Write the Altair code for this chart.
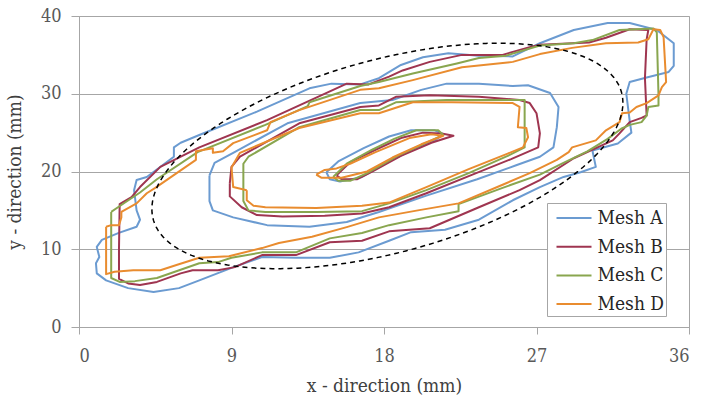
import math
import altair as alt
import pandas as pd

# Series names and line colours
MESHES = ["Mesh A", "Mesh B", "Mesh C", "Mesh D"]
COLORS = ["#6b9bd1", "#9f3550", "#89a64f", "#e98c2f"]

X_TICKS = [0, 9, 18, 27, 36]
Y_TICKS = [0, 5, 10, 15, 20, 25, 30, 35, 40]

# Contour traces (x mm, y mm), each a closed loop
A_OUTER = [(4.4, 4.5), (2.9, 5.0), (1.6, 6.0), (1.05, 6.9), (1.0, 8.2), (1.2, 9.0), (1.05, 10.3),
           (1.35, 11.2), (2.35, 12.1), (3.4, 12.9), (3.6, 13.8), (3.4, 15.0), (3.25, 17.6), (3.4, 18.9),
           (4.0, 19.3), (5.6, 21.9), (5.6, 23.1), (6.0, 23.7), (7.1, 24.7), (10.5, 27.7), (13.6, 30.7),
           (14.9, 31.3), (16.6, 31.2), (17.7, 32.0), (19.0, 33.7), (20.3, 34.7), (21.8, 35.2), (23.6, 34.9),
           (25.6, 34.8), (27.2, 36.5), (29.2, 38.2), (31.2, 39.1), (32.5, 39.1), (34.1, 38.2), (35.1, 36.5),
           (35.1, 33.6), (34.8, 32.8), (33.5, 32.1), (32.5, 31.5), (32.3, 30.0), (32.5, 26.5), (32.6, 25.0),
           (31.8, 23.6), (30.3, 22.7), (30.5, 20.6), (29.6, 19.9), (28.6, 19.3), (27.2, 18.0), (25.6, 16.3),
           (23.6, 13.8), (21.6, 12.5), (19.6, 12.2), (18.3, 11.1), (16.5, 9.6), (14.8, 8.9), (12.8, 8.9),
           (10.8, 9.0), (9.0, 7.6), (7.1, 6.0), (5.9, 5.0)]
A_MIDDLE = [(7.7, 19.5), (7.7, 16.2), (7.9, 15.0), (9.1, 14.1), (11.1, 13.1), (13.6, 12.9), (15.8, 13.5),
            (17.7, 14.8), (20.5, 16.9), (23.5, 19.0), (25.8, 20.8), (27.2, 21.9), (28.0, 23.1), (28.2, 25.7),
            (28.3, 28.3), (27.8, 30.1), (26.5, 31.1), (25.6, 31.0), (23.6, 31.3), (21.7, 31.3), (20.2, 30.5),
            (18.5, 29.2), (16.6, 28.8), (12.3, 26.2), (9.1, 22.4), (8.0, 21.1)]
A_INNER = [(14.6, 19.9), (15.3, 21.3), (16.8, 23.0), (18.3, 24.5), (19.6, 25.3), (21.0, 25.3), (21.5, 24.8),
           (21.0, 24.0), (19.5, 22.6), (18.3, 21.3), (16.7, 19.3), (15.4, 18.7), (14.8, 19.0)]

B_OUTER = [(2.36, 10.0), (2.36, 6.2), (2.9, 5.6), (3.6, 5.4), (4.6, 5.8), (6.0, 6.9), (6.7, 7.3), (8.2, 7.3),
           (9.2, 7.7), (10.8, 9.25), (12.8, 9.25), (14.8, 10.9), (16.7, 11.1), (18.3, 12.3), (20.7, 12.7),
           (23.6, 15.4), (26.0, 17.6), (27.2, 18.9), (29.2, 21.7), (31.5, 24.0), (31.9, 24.9), (32.5, 26.35),
           (33.2, 26.9), (33.5, 27.2), (33.4, 32.0), (33.5, 37.0), (33.6, 38.2), (32.5, 38.3), (31.1, 37.2),
           (30.1, 36.6), (27.2, 36.3), (26.6, 36.0), (25.0, 35.0), (22.6, 35.0), (20.7, 34.1), (19.1, 33.0),
           (18.3, 32.2), (17.1, 31.2), (15.8, 31.3), (15.0, 30.5), (11.1, 26.6), (7.1, 23.1), (4.8, 20.6),
           (3.6, 18.0), (3.1, 16.7), (2.4, 15.8)]
B_MIDDLE = [(8.9, 18.5), (8.9, 16.8), (9.6, 15.4), (10.5, 14.4), (12.0, 14.2), (14.5, 14.3), (16.7, 14.6),
            (18.3, 15.4), (20.5, 17.2), (23.0, 19.4), (25.5, 21.6), (27.1, 23.1), (27.2, 24.9), (27.0, 27.5),
            (26.6, 28.8), (26.0, 29.2), (23.6, 29.6), (20.7, 29.8), (18.7, 29.6), (17.7, 28.5), (16.6, 28.3),
            (13.0, 26.2), (9.5, 21.9), (9.0, 20.6)]
B_INNER = [(15.2, 19.5), (16.0, 21.2), (17.5, 22.8), (19.0, 24.3), (20.3, 25.0), (21.4, 24.9), (22.1, 24.6),
           (20.8, 23.7), (19.0, 22.0), (17.3, 20.0), (16.4, 19.0), (15.5, 19.0)]

C_OUTER = [(1.9, 14.8), (1.9, 6.3), (2.4, 5.8), (3.3, 5.9), (4.6, 6.3), (7.1, 8.2), (8.2, 8.35), (9.0, 8.9),
           (10.8, 9.6), (12.8, 9.6), (14.8, 11.4), (16.7, 12.1), (18.3, 13.1), (20.5, 14.1), (22.4, 14.9),
           (22.4, 15.8), (25.0, 17.9), (27.2, 19.6), (28.5, 21.0), (30.0, 22.6), (31.2, 24.2), (32.0, 25.5),
           (32.5, 26.0), (33.2, 26.35), (33.5, 27.2), (33.6, 28.3), (34.2, 28.5), (34.2, 29.8), (34.1, 37.9),
           (33.9, 38.4), (31.9, 38.2), (30.3, 36.9), (29.2, 36.5), (27.2, 36.2), (25.2, 34.9), (23.6, 34.6),
           (22.3, 33.9), (19.7, 32.6), (17.7, 31.5), (16.6, 31.0), (13.6, 28.9), (13.5, 28.4), (11.0, 26.0),
           (7.0, 22.5), (4.6, 19.0), (3.6, 17.3), (2.3, 15.4)]
C_MIDDLE = [(9.7, 18.0), (9.7, 16.2), (10.0, 15.0), (11.0, 14.8), (14.0, 14.8), (16.7, 14.9), (18.3, 15.9),
            (20.5, 17.6), (23.0, 19.8), (25.3, 22.0), (26.3, 23.1), (26.3, 25.5), (26.3, 29.2), (24.0, 29.2),
            (21.7, 29.2), (18.7, 28.9), (17.7, 27.9), (16.6, 27.9), (13.0, 25.7), (10.0, 21.9), (9.7, 21.0)]
C_INNER = [(15.0, 19.3), (15.8, 21.0), (17.3, 22.8), (18.6, 24.2), (19.9, 25.3), (21.2, 25.3), (21.5, 24.7),
           (20.6, 23.8), (18.8, 22.0), (17.0, 19.8), (16.0, 18.8), (15.3, 18.8)]

D_OUTER = [(1.6, 12.9), (1.6, 6.8), (2.1, 7.1), (3.2, 7.3), (4.8, 7.3), (5.8, 8.0), (7.1, 8.9), (8.85, 9.1),
           (10.8, 10.15), (11.8, 10.8), (13.75, 11.6), (15.8, 12.85), (17.7, 14.1), (20.0, 15.0), (22.4, 15.9),
           (25.0, 18.3), (26.6, 19.8), (28.2, 21.5), (28.9, 22.5), (29.1, 23.1), (30.5, 24.0), (31.1, 25.3),
           (31.9, 26.35), (32.05, 27.5), (32.5, 27.6), (32.9, 28.3), (33.5, 28.8), (34.2, 29.8), (34.4, 30.85),
           (34.65, 31.5), (34.5, 37.3), (34.3, 38.2), (33.9, 38.3), (33.6, 37.0), (33.0, 36.6), (31.1, 36.5),
           (29.1, 35.9), (27.2, 35.1), (25.6, 34.1), (22.6, 33.4), (19.7, 31.75), (17.7, 30.7), (16.6, 30.5),
           (13.0, 27.9), (11.3, 26.35), (11.1, 25.3), (9.1, 23.65), (8.5, 22.6), (7.9, 22.4), (7.9, 23.0),
           (6.9, 22.6), (6.9, 21.5), (4.5, 17.9), (4.0, 17.2), (3.4, 15.9), (2.5, 14.8), (2.5, 14.1),
           (2.36, 13.1), (1.9, 13.1)]
D_MIDDLE = [(9.9, 17.6), (9.9, 16.3), (10.3, 15.6), (11.0, 15.4), (14.0, 15.3), (16.7, 15.6), (18.3, 16.0),
            (20.5, 18.0), (23.0, 20.3), (25.3, 22.3), (26.2, 23.1), (26.5, 24.4), (26.4, 25.6), (25.9, 25.7),
            (26.0, 28.3), (25.6, 28.8), (22.0, 28.9), (19.7, 28.9), (17.7, 27.5), (16.6, 27.5), (13.0, 25.6),
            (9.5, 22.4), (9.0, 20.5), (9.1, 18.0)]
D_INNER = [(14.0, 19.6), (14.5, 20.2), (15.2, 20.4), (16.0, 21.0), (17.5, 22.5), (19.5, 24.3), (20.8, 24.8),
           (21.5, 24.6), (20.2, 23.5), (18.5, 21.8), (17.0, 20.0), (15.5, 19.2), (14.3, 19.2)]

CONTOURS = {
    "Mesh A": [A_OUTER, A_MIDDLE, A_INNER],
    "Mesh B": [B_OUTER, B_MIDDLE, B_INNER],
    "Mesh C": [C_OUTER, C_MIDDLE, C_INNER],
    "Mesh D": [D_OUTER, D_MIDDLE, D_INNER],
}

# Reference ellipse: centre, half-spans in x and y, phase between them
ELLIPSE_CENTER = [18.2, 22.0]
ELLIPSE_SPAN = [13.9, 14.5]
ELLIPSE_PHASE = 1.08

rows = []
for mesh in MESHES:
    for k, loop in enumerate(CONTOURS[mesh]):
        for i, (x, y) in enumerate(loop + [loop[0]]):
            rows.append({"mesh": mesh, "path": f"{mesh}-{k}", "order": i, "x": x, "y": y})
df = pd.DataFrame(rows)

n = 160
ell = pd.DataFrame({
    "order": list(range(n + 1)),
    "x": [ELLIPSE_CENTER[0] + ELLIPSE_SPAN[0] * math.cos(2 * math.pi * i / n) for i in range(n + 1)],
    "y": [ELLIPSE_CENTER[1] + ELLIPSE_SPAN[1] * math.cos(2 * math.pi * i / n - ELLIPSE_PHASE) for i in range(n + 1)],
})

FONT = "DejaVu Serif Condensed"
GRAY = "#a6a6a6"

x_enc = alt.X("x:Q", scale=alt.Scale(domain=[0, 36], nice=False, zero=False),
              axis=alt.Axis(values=X_TICKS, grid=False, title="x - direction (mm)",
                            tickSize=7, labelPadding=13, titlePadding=11))
y_enc = alt.Y("y:Q", scale=alt.Scale(domain=[0, 40], nice=False, zero=False),
              axis=alt.Axis(values=Y_TICKS, grid=True, title="y - direction (mm)",
                            tickSize=8, labelPadding=10, titlePadding=16))

lines = alt.Chart(df).mark_line(strokeWidth=2, strokeJoin="round").encode(
    x=x_enc,
    y=y_enc,
    color=alt.Color("mesh:N", scale=alt.Scale(domain=MESHES, range=COLORS),
                    legend=alt.Legend(title=None, orient="none", legendX=468, legendY=187,
                                      symbolType="M-1.4,0L1.4,0", symbolSize=625, symbolStrokeWidth=2,
                                      symbolOffset=12,
                                      labelFontSize=19, labelFont=FONT, labelColor="#262626",
                                      labelOffset=10, rowPadding=4.7, padding=1.5,
                                      fillColor="white", strokeColor=GRAY)),
    detail="path:N",
    order="order:Q",
)

ellipse = alt.Chart(ell).mark_line(color="black", strokeWidth=1.5, strokeDash=[5, 4]).encode(
    x="x:Q", y="y:Q", order="order:Q"
)

chart = alt.layer(lines, ellipse).properties(
    width=610, height=311,
    autosize=alt.AutoSizeParams(type="none"),
    padding={"left": 79, "top": 16, "right": 14, "bottom": 69},
).configure_view(stroke=GRAY, strokeWidth=1).configure_axis(
    domainColor=GRAY, tickColor=GRAY, gridColor=GRAY, gridWidth=1,
    labelFont=FONT, labelFontSize=18, labelColor="#595959",
    titleFont=FONT, titleFontSize=19, titleFontWeight="normal", titleColor="#404040",
)

chart.save("out.html", embed_options={"renderer": "svg", "actions": False})
